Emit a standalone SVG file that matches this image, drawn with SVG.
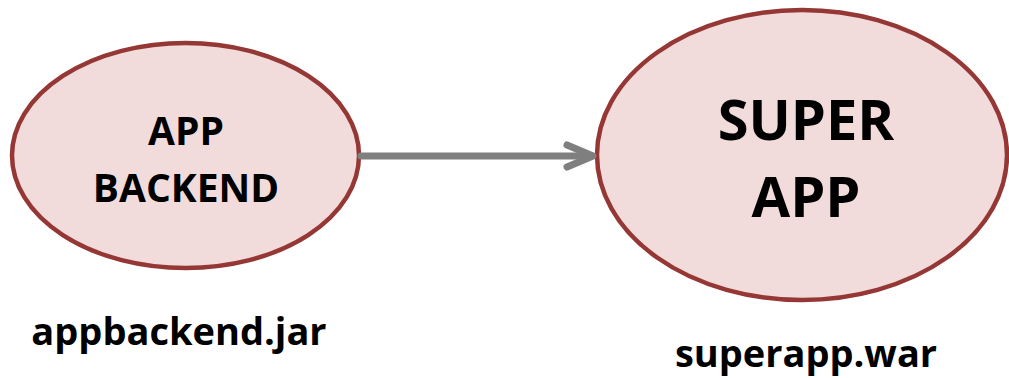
<svg xmlns="http://www.w3.org/2000/svg" width="1009" height="378" viewBox="0 0 1009 378">
<style>
.node ellipse{fill:#f2dcdb;stroke:#953735;stroke-width:4.5}
text{font-family:"Open Sans","Liberation Sans",sans-serif;font-weight:bold;fill:#000;text-anchor:middle}
.conn{stroke:#7f7f7f;stroke-width:7;fill:none;stroke-linecap:round;stroke-linejoin:round}
</style>
<rect width="1009" height="378" fill="#ffffff"/>
<g id="node-app-backend" class="node">
<ellipse cx="185.5" cy="155.5" rx="173.5" ry="112.5"/>
<text x="186" y="145" font-size="39">APP</text>
<text x="186" y="202" font-size="39">BACKEND</text>
</g>
<g id="node-super-app" class="node">
<ellipse cx="802" cy="155" rx="205" ry="145"/>
<text x="806" y="140" font-size="56">SUPER</text>
<text x="806" y="217" font-size="56">APP</text>
</g>
<g id="label-appbackend-jar">
<text x="179" y="345" font-size="38">appbackend.jar</text>
</g>
<g id="label-superapp-war">
<text x="806" y="367" font-size="38">superapp.war</text>
</g>
<g id="connectors">
<line class="conn" x1="361" y1="156" x2="590" y2="156" stroke-linecap="butt"/>
<polyline class="conn" points="567,145 593,156 567,167"/>
</g>
</svg>
